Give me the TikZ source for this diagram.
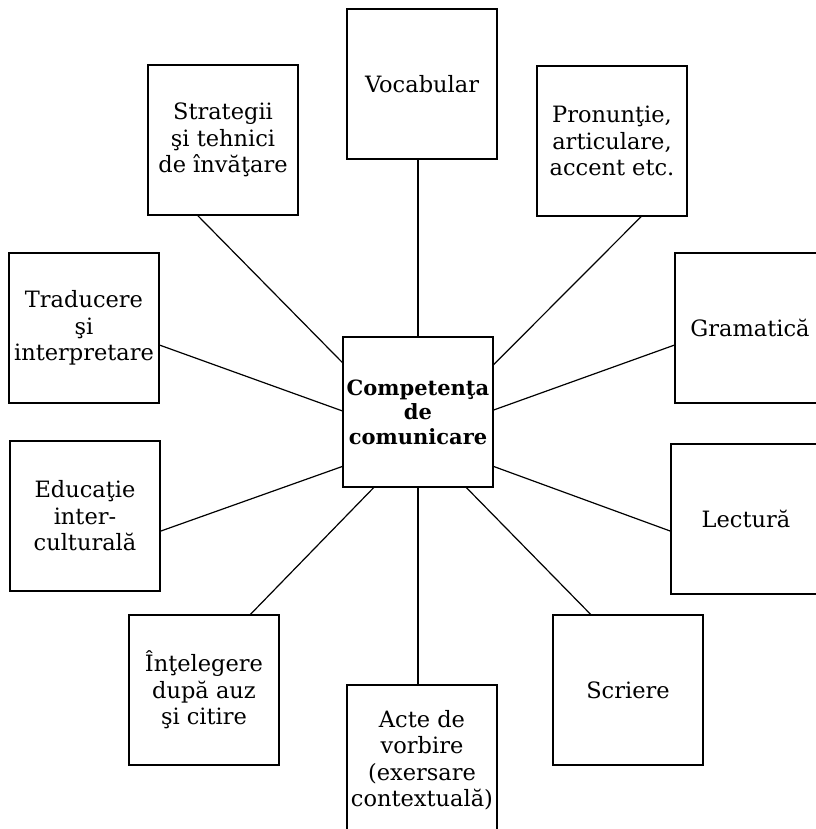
\documentclass[tikz,border=0pt]{standalone}
\usepackage{fontspec}
\setmainfont{DejaVu Serif}
\usetikzlibrary{calc}
\begin{document}
\begin{tikzpicture}[x=1bp,y=-1bp,
  box/.style={draw, line width=1.2bp, minimum width=150bp, minimum height=150bp, inner sep=0pt, align=center,
    font=\fontsize{22.5bp}{26.5bp}\selectfont},
  link/.style={line width=1.2bp}]
\useasboundingbox (0,0) rectangle (816,829);
\node[box, font=\fontsize{21bp}{24.5bp}\selectfont\bfseries] (c) at (418,412) {Competenţa\\de\\comunicare};
\node[box] (voc) at (422,84) {Vocabular};
\node[box] (str) at (223,140) {Strategii\\şi tehnici\\de învăţare};
\node[box] (pro) at (612,141) {Pronunţie,\\articulare,\\accent etc.};
\node[box] (gra) at (750,328) {Gramatică};
\node[box] (tra) at (84,328) {Traducere\\şi\\interpretare};
\node[box] (edu) at (85,516) {Educaţie\\inter-\\culturală};
\node[box] (lec) at (746,519) {Lectură};
\node[box] (int) at (204,690) {Înţelegere\\după auz\\şi citire};
\node[box] (act) at (422,760) {Acte de\\vorbire\\(exersare\\contextuală)};
\node[box] (scr) at (628,690) {Scriere};

\draw[link] (c.north |- voc.south) -- (c.north);
\draw[link] ($(str.south west)!0.333!(str.south east)$) -- ($(c.north west)!0.173!(c.south west)$);
\draw[link] ($(pro.south west)!0.693!(pro.south east)$) -- ($(c.north east)!0.187!(c.south east)$);
\draw[link] ($(gra.north west)!0.613!(gra.south west)$) -- ($(c.north east)!0.487!(c.south east)$);
\draw[link] ($(tra.north east)!0.613!(tra.south east)$) -- ($(c.north west)!0.493!(c.south west)$);
\draw[link] ($(edu.north east)!0.6!(edu.south east)$) -- ($(c.north west)!0.86!(c.south west)$);
\draw[link] ($(lec.north west)!0.58!(lec.south west)$) -- ($(c.north east)!0.86!(c.south east)$);
\draw[link] ($(int.north west)!0.807!(int.north east)$) -- ($(c.south west)!0.207!(c.south east)$);
\draw[link] (c.south) -- (c.south |- act.north);
\draw[link] ($(scr.north west)!0.253!(scr.north east)$) -- ($(c.south west)!0.82!(c.south east)$);
\end{tikzpicture}
\end{document}
